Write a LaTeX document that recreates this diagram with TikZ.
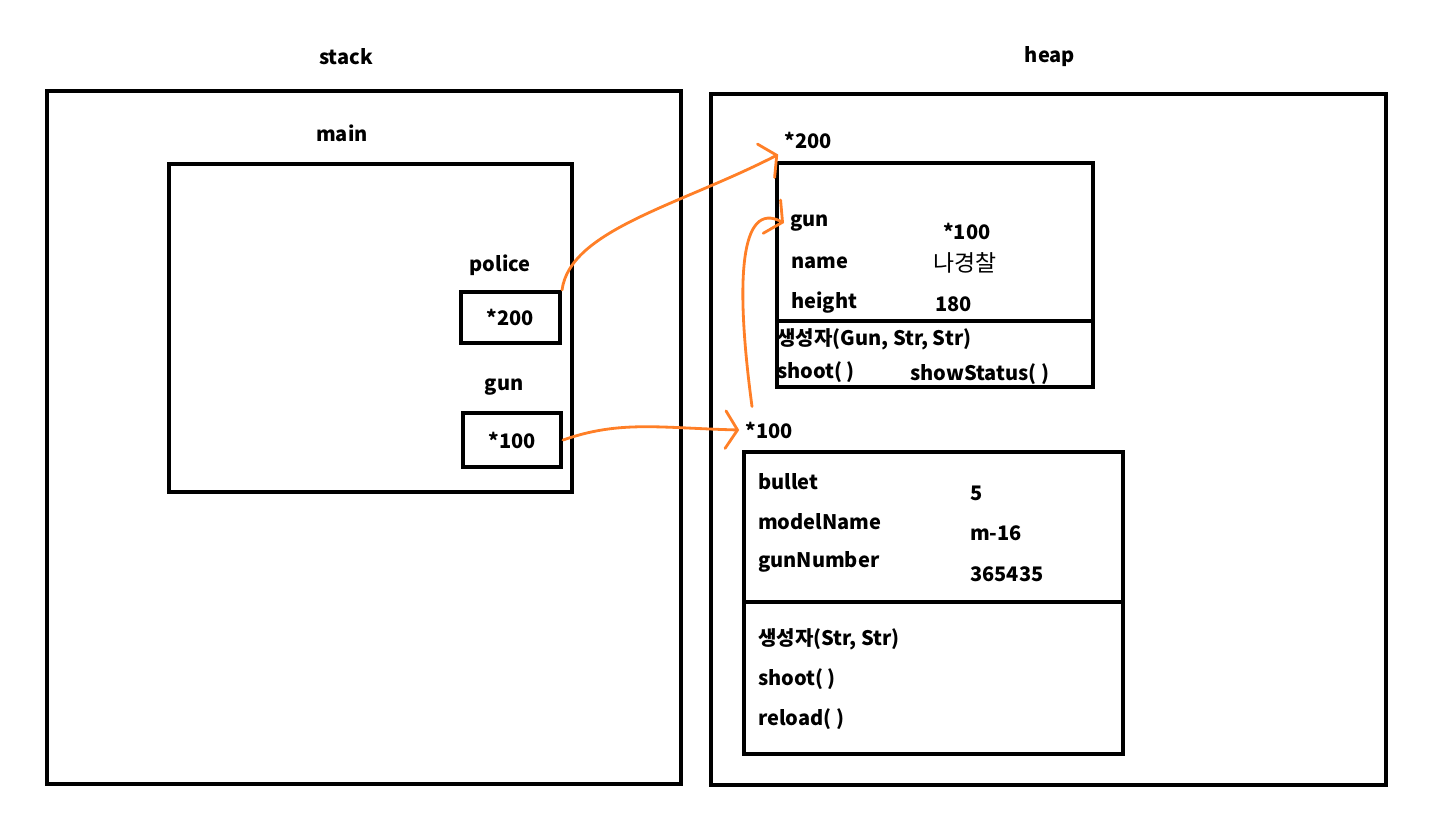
\documentclass[tikz,border=0pt]{standalone}
\usepackage{fontspec}
\setmainfont{Noto Sans CJK KR}
\usetikzlibrary{arrows.meta}
\definecolor{pen}{RGB}{255,127,39}
\tikzset{
  frame/.style={draw, line width=2.3pt, inner sep=0pt, anchor=north west},
  lbl/.style={font=\fontsize{11.4}{13}\selectfont\bfseries},
  txt/.style={lbl, anchor=west},
  ptr/.style={draw=pen, line width=1.6pt, line cap=round, -{Straight Barb[length=2.4mm, width=7.5mm, line cap=round]}}
}
\begin{document}
\begin{tikzpicture}[x=0.02cm, y=-0.02cm]
            \useasboundingbox (0,0) rectangle (1430,829);

            % stack side
            \node[lbl] (stacklbl) at (346,57) {stack};
            \node[frame, minimum width=12.68cm, minimum height=13.86cm] (stack) at (45,89) {};
            \node[lbl] (mainlbl) at (342,133) {main};
            \node[frame, minimum width=8.06cm, minimum height=6.56cm] (mainframe) at (167,162) {};
            \node[lbl] (policelbl) at (500,265) {police};
            \node[frame, lbl, minimum width=1.98cm, minimum height=1.02cm] (policevar) at (459,290) {*200};
            \node[lbl] (gunlbl) at (504,387) {gun};
            \node[frame, lbl, minimum width=1.96cm, minimum height=1.08cm] (gunvar) at (461,411) {*100};

            % heap side
            \node[lbl] (heaplbl) at (1050,57) {heap};
            \node[frame, minimum width=13.5cm, minimum height=13.82cm] (heap) at (709,92) {};

            % police object
            \node[lbl] (paddr) at (808,140) {*200};
            \node[frame, minimum width=6.32cm, minimum height=4.48cm] (policeobj) at (775,161) {};
            \draw[line width=2.3pt] (775,321) -- (1091,321);
            \node[txt] (gunfield) at (784,223) {gun};
            \node[txt] at (937,231) {*100};
            \node[txt] at (785,263) {name};
            \node[txt, font=\fontsize{13}{15}\selectfont] at (927,263) {나경찰};
            \node[txt] at (785,303) {height};
            \node[txt] at (929,304) {180};
            \node[txt] at (771,339) {생성자(Gun, Str, Str)};
            \node[txt] at (771,372) {shoot( )};
            \node[txt] at (904,374) {showStatus( )};

            % gun object
            \node[lbl] (gaddr) at (769,430) {*100};
            \node[frame, minimum width=7.58cm, minimum height=6.04cm] (gunobj) at (742,450) {};
            \draw[line width=2.3pt] (742,602) -- (1125,602);
            \node[txt] at (752,482) {bullet};
            \node[txt] at (752,522) {modelName};
            \node[txt] at (752,562) {gunNumber};
            \node[txt] at (964,493) {5};
            \node[txt] at (964,533) {m-16};
            \node[txt] at (964,574) {365435};
            \node[txt] at (752,639) {생성자(Str, Str)};
            \node[txt] at (752,679) {shoot( )};
            \node[txt] at (752,719) {reload( )};

            % references
            \draw[ptr] (policevar.north east) .. controls (570,230) and (680,205) .. (paddr.south west);
            \draw[ptr] (gunvar.east) .. controls (620,420) and (660,428) .. (gaddr.west);
            \draw[ptr] ([xshift=-0.34cm, yshift=0.18cm]gaddr.north) .. controls (735,280) and (740,200) .. (gunfield.west);
        \end{tikzpicture}
\end{document}
